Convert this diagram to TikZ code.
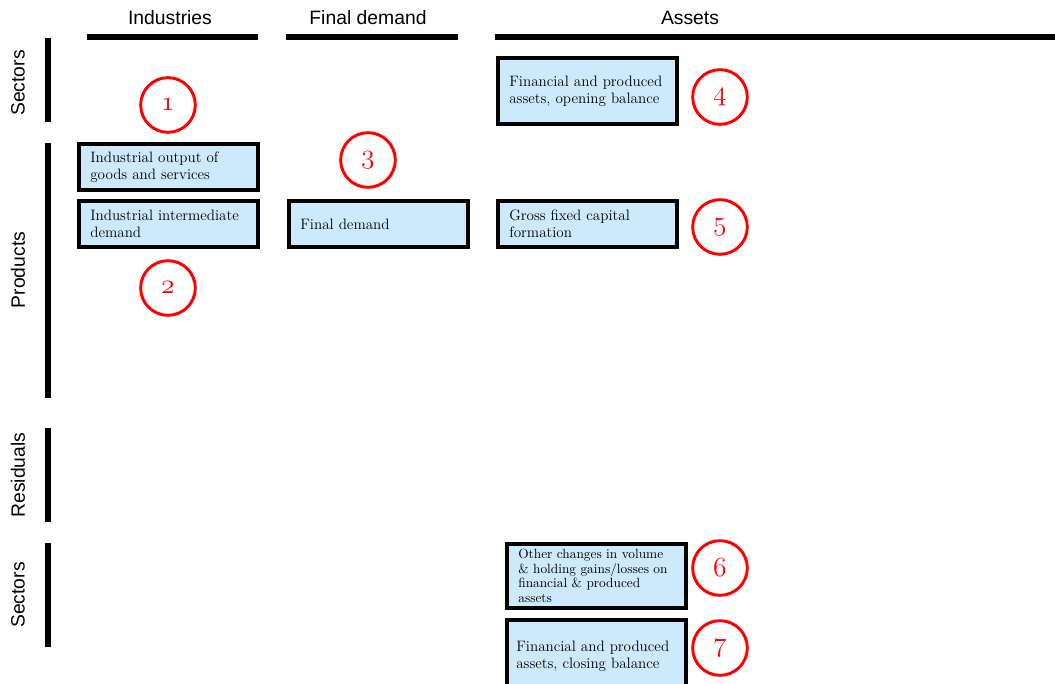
\documentclass[tikz,border=0pt]{standalone}
\usepackage{fontspec}
\newfontfamily\hdfont{Liberation Sans}
\tikzset{
  cell/.style={draw=black,line width=3pt,fill=cellblue,anchor=north west,
    minimum width=134pt,text width=117pt,inner xsep=8.5pt,align=left,
    font=\fontsize{11.3}{13}\selectfont},
  numc/.style={circle,draw=red,line width=2.2pt,minimum size=41pt,inner sep=0pt,
    text=red,font=\fontsize{20}{20}\usefont{OML}{cmm}{m}{it}},
  head/.style={font=\hdfont\fontsize{14.5}{16}\selectfont},
  bar/.style={line width=3.8pt}
}
\definecolor{cellblue}{RGB}{204,234,251}
\begin{document}
\begin{tikzpicture}[x=0.75pt,y=-0.75pt]
  \useasboundingbox (0,0) rectangle (1055,683);
  % column heads
  \node[head] (hind) at (170,18) {Industries};
  \node[head] (hfin) at (368,18) {Final demand};
  \node[head] (hass) at (690,18) {Assets};
  \draw[bar] (87,37) -- (258,37);
  \draw[bar] (286,37) -- (458,37);
  \draw[bar] (495,37) -- (1055,37);
  % row heads
  \node[head,rotate=90] (rsec) at (18,83) {Sectors};
  \node[head,rotate=90] (rpro) at (18,270) {Products};
  \node[head,rotate=90] (rres) at (18,475) {Residuals};
  \node[head,rotate=90] (rsec2) at (18,595) {Sectors};
  \draw[bar] (48,38) -- (48,122);
  \draw[bar] (48,143) -- (48,398);
  \draw[bar] (48,428) -- (48,522);
  \draw[bar] (48,543) -- (48,647);
  % boxes
  \node[cell,minimum height=34.5pt] (outp) at (77,142) {Industrial output of\\goods and services};
  \node[cell,minimum height=34.5pt] (inter) at (77,199) {Industrial intermediate\\demand};
  \node[cell,minimum height=34.5pt] (fdem) at (287,199) {Final demand};
  \node[cell,minimum height=49.5pt] (open) at (496,56) {Financial and produced\\assets, opening balance};
  \node[cell,minimum height=34.5pt] (gfcf) at (496,199) {Gross fixed capital\\formation};
  \node[cell,minimum height=48pt,font=\fontsize{10}{11}\selectfont] (oth) at (505,542) {Other changes in volume\\\& holding gains/losses on\\financial \& produced\\assets};
  \node[cell,minimum height=54pt,text width=120pt,inner xsep=7pt] (close) at (505,618) {Financial and produced\\assets, closing balance};
  % numbers
  \node[numc] (n1) at (168,105) {1};
  \node[numc] (n2) at (168,288) {2};
  \node[numc] (n3) at (368,160) {3};
  \node[numc] (n4) at (720,97) {4};
  \node[numc] (n5) at (720,227) {5};
  \node[numc] (n6) at (720,568) {6};
  \node[numc] (n7) at (720,648) {7};
\end{tikzpicture}
\end{document}
